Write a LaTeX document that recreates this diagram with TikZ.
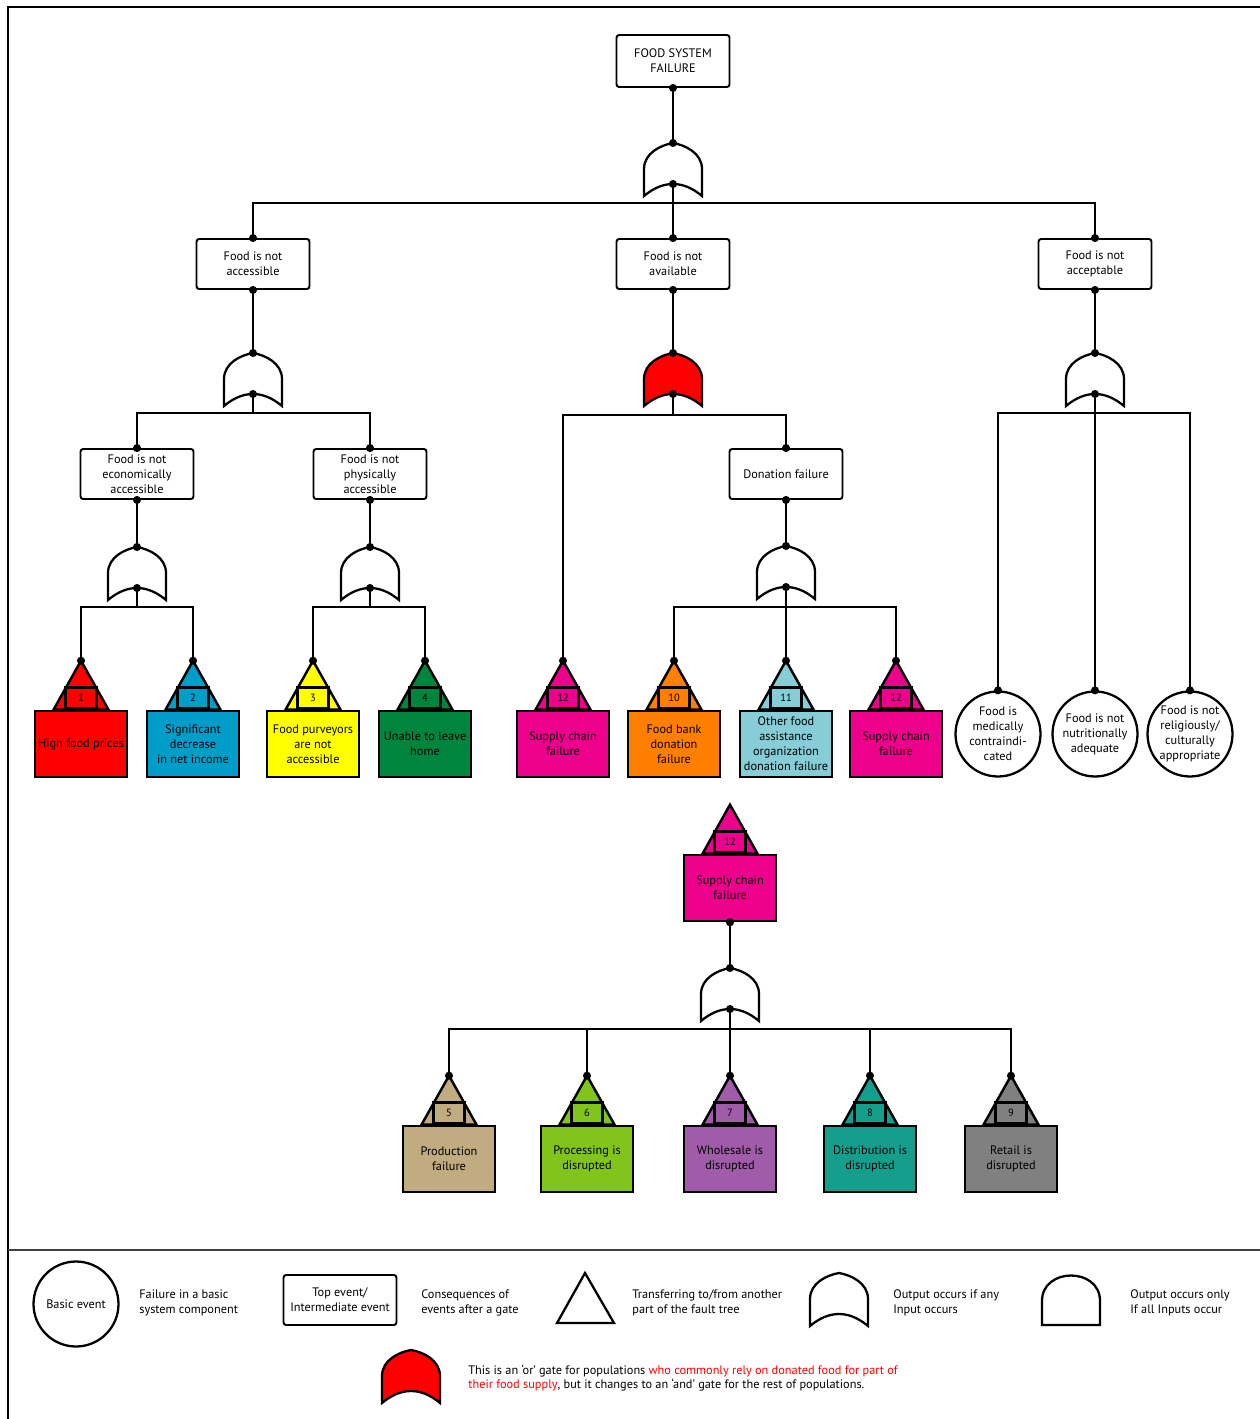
\documentclass[tikz,border=0pt]{standalone}
\usepackage{fontspec}
\setmainfont{PT Sans}
\usetikzlibrary{positioning}

\definecolor{fsred}{RGB}{255,0,0}
\definecolor{fsblue}{RGB}{0,157,200}
\definecolor{fsyellow}{RGB}{255,255,0}
\definecolor{fsgreen}{RGB}{0,133,62}
\definecolor{fspink}{RGB}{236,0,140}
\definecolor{fsorange}{RGB}{255,127,0}
\definecolor{fscyan}{RGB}{135,205,215}
\definecolor{fstan}{RGB}{193,171,128}
\definecolor{fslime}{RGB}{128,196,28}
\definecolor{fspurple}{RGB}{160,92,168}
\definecolor{fsteal}{RGB}{22,158,140}
\definecolor{fsgrey}{RGB}{128,128,128}

\tikzset{
	every node/.style={font=\fontsize{7}{8.5}\selectfont},
	evt/.style={draw, line width=1.1pt, rounded corners=1.5pt, fill=white, align=center, minimum width=2.26cm, minimum height=1cm, inner sep=1pt},
	xbox/.style={draw, line width=1.5pt, align=center, minimum width=1.84cm, minimum height=1.32cm, inner sep=1pt},
	nbox/.style={draw, line width=1.3pt, minimum width=0.62cm, minimum height=0.42cm, inner sep=0pt, font=\fontsize{6}{7}\selectfont},
	basic/.style={draw, circle, line width=1.3pt, align=center, minimum size=1.7cm, inner sep=0pt},
	legtxt/.style={anchor=west, align=left, inner sep=0pt},
	wire/.style={line width=1.1pt},
	orgate/.pic={
		\path[draw, line width=1.3pt, pic actions] (-29,53) -- (-29,26) .. controls (-29,10) and (-12,2) .. (0,0) .. controls (12,2) and (29,10) .. (29,26) -- (29,53) .. controls (10,37) and (-10,37) .. cycle;
		\coordinate (-in) at (0,0);
		\coordinate (-out) at (0,41);
	},
	andgate/.pic={
		\path[draw, line width=1.3pt, pic actions] (-29,50) -- (-29,26) .. controls (-29,-8) and (29,-8) .. (29,26) -- (29,50) -- cycle;
	},
}

% transfer event: name, position, colour, number, label
\newcommand{\Xfer}[5]{
	\draw[line width=1.4pt, fill=#3] (#1.north) ++(-27.5,0) -- ++(27.5,-49) coordinate (#1-top) -- ++(27.5,49) -- cycle;
	\node[nbox, fill=#3, above=0pt of #1] (#1-n) {#4};
}

\begin{document}
\begin{tikzpicture}[x=0.02cm, y=-0.02cm]
	\useasboundingbox (0,0) rectangle (1260,1419);
	\draw[line width=1.2pt] (1260,7) -- (8,7) -- (8,1419);
	\draw[line width=1.2pt, black!75] (8,1250) -- (1260,1250);

	% events
	\node[evt, minimum height=1.04cm] (top) at (673,61) {FOOD SYSTEM\\FAILURE};
	\node[evt] (acc) at (253,264) {Food is not\\accessible};
	\node[evt] (avail) at (673,264) {Food is not\\available};
	\node[evt] (accept) at (1095,264) {Food is not\\acceptable};
	\node[evt] (econ) at (137,474) {Food is not\\economically\\accessible};
	\node[evt] (phys) at (370,474) {Food is not\\physically\\accessible};
	\node[evt] (don) at (786,474) {Donation failure};

	% gates
	\pic (g0) at (673,143) {orgate};
	\pic (g1) at (253,353) {orgate};
	\pic[fill=fsred] (g2) at (673,353) {orgate};
	\pic (g3) at (1095,353) {orgate};
	\pic (g4) at (137,547) {orgate};
	\pic (g5) at (370,547) {orgate};
	\pic (g6) at (786,546) {orgate};
	\pic (g7) at (730,968) {orgate};

	% transfer events
	\node[xbox, fill=fsred] (e1) at (81,744) {High food prices};
	\node[xbox, fill=fsblue] (e2) at (193,744) {Significant\\decrease\\in net income};
	\node[xbox, fill=fsyellow] (e3) at (313,744) {Food purveyors\\are not\\accessible};
	\node[xbox, fill=fsgreen] (e4) at (425,744) {Unable to leave\\home};
	\node[xbox, fill=fspink] (e12a) at (563,744) {Supply chain\\failure};
	\node[xbox, fill=fsorange] (e10) at (674,744) {Food bank\\donation\\failure};
	\node[xbox, fill=fscyan] (e11) at (786,744) {Other food\\assistance\\organization\\donation failure};
	\node[xbox, fill=fspink] (e12b) at (896,744) {Supply chain\\failure};
	\node[xbox, fill=fspink] (e12c) at (730,888) {Supply chain\\failure};
	\node[xbox, fill=fstan] (e5) at (449,1159) {Production\\failure};
	\node[xbox, fill=fslime] (e6) at (587,1159) {Processing is\\disrupted};
	\node[xbox, fill=fspurple] (e7) at (730,1159) {Wholesale is\\disrupted};
	\node[xbox, fill=fsteal] (e8) at (870,1159) {Distribution is\\disrupted};
	\node[xbox, fill=fsgrey] (e9) at (1011,1159) {Retail is\\disrupted};
	\foreach \e/\c/\n in {e1/fsred/1, e2/fsblue/2, e3/fsyellow/3, e4/fsgreen/4, e12a/fspink/12, e10/fsorange/10, e11/fscyan/11, e12b/fspink/12, e12c/fspink/12, e5/fstan/5, e6/fslime/6, e7/fspurple/7, e8/fsteal/8, e9/fsgrey/9}
		\Xfer{\e}{}{\c}{\n}{};

	% basic events
	\node[basic] (c1) at (998,734) {Food is\\medically\\contraindi-\\cated};
	\node[basic] (c2) at (1095,734) {Food is not\\nutritionally\\adequate};
	\node[basic] (c3) at (1190,734) {Food is not\\religiously/\\culturally\\appropriate};

	% connectors
	\coordinate (b0) at (673,203);
	\coordinate (b1) at (253,413);
	\coordinate (b2) at (673,415);
	\coordinate (b3) at (1095,413);
	\coordinate (b4) at (137,607);
	\coordinate (b5) at (370,607);
	\coordinate (b6) at (786,607);
	\coordinate (b7) at (730,1029);
	\draw[wire] (top.south) -- (g0-in);
	\draw[wire] (acc.south) -- (g1-in);
	\draw[wire] (avail.south) -- (g2-in);
	\draw[wire] (accept.south) -- (g3-in);
	\draw[wire] (econ.south) -- (g4-in);
	\draw[wire] (phys.south) -- (g5-in);
	\draw[wire] (don.south) -- (g6-in);
	\draw[wire] (e12c.south) -- (g7-in);
	\foreach \g/\b in {g0/b0, g1/b1, g2/b2, g3/b3, g4/b4, g5/b5, g6/b6, g7/b7}
		\draw[wire] (\g-out) -- (\b);
	\foreach \k/\b in {acc.north/b0, avail.north/b0, accept.north/b0, econ.north/b1, phys.north/b1, e12a-top/b2, don.north/b2, c1.north/b3, c2.north/b3, c3.north/b3, e1-top/b4, e2-top/b4, e3-top/b5, e4-top/b5, e10-top/b6, e11-top/b6, e12b-top/b6, e5-top/b7, e6-top/b7, e7-top/b7, e8-top/b7, e9-top/b7}
		\draw[wire] (\k) |- (\b);
	\foreach \p in {top.south, acc.north, avail.north, accept.north, acc.south, avail.south, accept.south, econ.north, phys.north, don.north, econ.south, phys.south, don.south, e12c.south, c1.north, c2.north, c3.north, g0-in, g0-out, g1-in, g1-out, g2-in, g2-out, g3-in, g3-out, g4-in, g4-out, g5-in, g5-out, g6-in, g6-out, g7-in, g7-out, e1-top, e2-top, e3-top, e4-top, e12a-top, e10-top, e11-top, e12b-top, e5-top, e6-top, e7-top, e8-top, e9-top}
		\fill (\p) circle (2.3pt);

	% legend
	\node[basic] (lbasic) at (76,1304) {Basic event};
	\node[legtxt] (lbasict) at (139,1303) {Failure in a basic\\system component};
	\node[evt] (levt) at (340,1300) {Top event/\\Intermediate event};
	\node[legtxt] (levtt) at (421,1303) {Consequences of\\events after a gate};
	\draw[line width=1.3pt] (557,1323) -- (585,1273) -- (614,1323) -- cycle;
	\node[legtxt] (lxfert) at (632,1303) {Transferring to/from another\\part of the fault tree};
	\pic (lor) at (839,1273) {orgate};
	\node[legtxt] (lort) at (893,1303) {Output occurs if any\\Input occurs};
	\pic (land) at (1071,1275) {andgate};
	\node[legtxt] (landt) at (1130,1303) {Output occurs only\\If all Inputs occur};
	\pic[fill=fsred] (lred) at (411,1350) {orgate};
	\node[legtxt] (lredt) at (468,1378) {This is an ‘or’ gate for populations \textcolor{fsred}{who commonly rely on donated food for part of}\\\textcolor{fsred}{their food supply}, but it changes to an ‘and’ gate for the rest of populations.};
\end{tikzpicture}
\end{document}
